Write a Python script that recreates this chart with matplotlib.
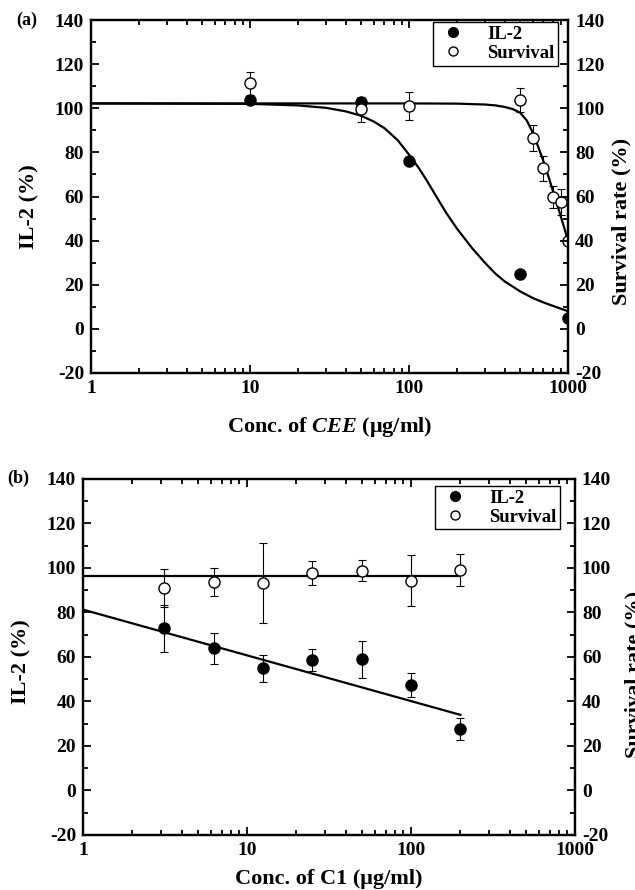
import matplotlib
matplotlib.use('Agg')
import matplotlib.pyplot as plt
from matplotlib.lines import Line2D
from matplotlib.ticker import FixedLocator, NullFormatter

plt.rcParams['font.family'] = ['Liberation Serif', 'DejaVu Serif']
plt.rcParams['font.weight'] = 'bold'
plt.rcParams['mathtext.fontset'] = 'custom'
plt.rcParams['mathtext.it'] = 'Liberation Serif:italic:bold'
plt.rcParams['mathtext.rm'] = 'Liberation Serif:bold'

# (a) CEE data
a_x_il2 = [10, 50, 100, 500, 1000]
a_il2 = [103.7, 103.0, 76.1, 25.1, 4.8]
a_x_surv = [10, 50, 100, 500, 600, 700, 800, 900, 1000]
a_surv = [111.3, 99.5, 101.0, 103.7, 86.6, 72.8, 59.9, 57.6, 40.0]
a_surv_err = [5.3, 5.6, 6.5, 5.3, 5.8, 5.6, 5.0, 6.0, 1.0]

# (a) fitted curves
a_fit_x = [1, 10, 20, 30, 40, 50, 60, 70, 85, 100, 115, 130, 150, 170, 200,
           250, 300, 350, 400, 500, 600, 700, 850, 1000]
a_fit_il2 = [102.2, 102.0, 101.3, 100.2, 98.6, 96.6, 94.0, 91.0, 85.5, 79.0,
             73.0, 67.0, 59.5, 53.0, 45.5, 36.5, 30.0, 25.0, 21.5, 17.0,
             14.0, 12.0, 9.8, 8.0]
a_fit_sx = [1, 100, 200, 300, 350, 400, 450, 500, 550, 600, 650, 700, 750,
            800, 850, 900, 950, 1000]
a_fit_surv = [102.2, 102.2, 102.1, 101.7, 101.3, 100.6, 99.6, 98.0, 94.5,
              89.0, 82.5, 76.0, 69.5, 63.0, 57.0, 51.0, 45.5, 40.0]

# (b) C1 data
b_x = [3.125, 6.25, 12.5, 25, 50, 100, 200]
b_il2 = [72.9, 63.9, 54.9, 58.7, 59.0, 47.4, 27.5]
b_il2_err = [10.5, 7.0, 6.0, 5.0, 8.3, 5.6, 5.0]
b_surv = [90.9, 93.8, 93.1, 97.6, 98.7, 94.2, 99.1]
b_surv_err = [8.5, 6.4, 18.0, 5.4, 4.7, 11.5, 7.0]

# (b) fitted lines (straight on log axis)
b_fit_x = [1, 200]
b_fit_il2 = [81.3, 34.0]
b_fit_surv = [96.5, 96.5]

yticks = [-20, 0, 20, 40, 60, 80, 100, 120, 140]
yminor = [-10, 10, 30, 50, 70, 90, 110, 130]
xticks = [1, 10, 100, 1000]
xticklabels = ['1', '10', '100', '1000']

TICK_FS = 14
LABEL_FS = 16

fig = plt.figure(figsize=(6.35, 8.9), dpi=100)


def style(ax, ax2):
    ax.set_xscale('log')
    ax.set_xlim(1, 1000)
    for a in (ax, ax2):
        a.set_ylim(-20, 140)
        a.set_yticks(yticks)
        a.set_yticklabels([str(t) for t in yticks])
        a.yaxis.set_minor_locator(FixedLocator(yminor))
        for s in a.spines.values():
            s.set_linewidth(1.6)
    ax.set_xticks(xticks)
    ax.set_xticklabels(xticklabels)
    ax.xaxis.set_minor_formatter(NullFormatter())
    ax.tick_params(which='both', direction='in', top=True, right=False,
                   labelsize=TICK_FS, width=1.3, pad=5)
    ax.tick_params(which='major', length=6)
    ax.tick_params(which='minor', length=3.5)
    ax.tick_params(axis='x', pad=5)
    ax2.tick_params(which='both', direction='in', labelsize=TICK_FS,
                    width=1.3, pad=5)
    ax2.tick_params(which='major', length=6)
    ax2.tick_params(which='minor', length=3.5)


def legend(ax, anchor):
    h = [Line2D([], [], ls='none', marker='o', ms=7, mfc='black',
                mec='black'),
         Line2D([], [], ls='none', marker='o', ms=6.5, mfc='white',
                mec='black')]
    lg = ax.legend(h, ['IL-2', 'Survival'], loc='upper right',
                   bbox_to_anchor=anchor, borderaxespad=0, fancybox=False,
                   edgecolor='black', framealpha=1, handletextpad=1.0,
                   handlelength=1.7, borderpad=0.2, labelspacing=0.1,
                   prop={'size': 13.4, 'weight': 'bold'})
    lg.get_frame().set_linewidth(1.0)


# ---- panel (a)
ax = fig.add_axes([0.1433, 0.5809, 0.7512, 0.3966])
ax2 = ax.twinx()
ax.plot(a_fit_x, a_fit_il2, 'k-', lw=1.6, zorder=2)
ax.plot(a_fit_sx, a_fit_surv, 'k-', lw=1.6, zorder=2)
ax.plot(a_x_il2, a_il2, 'o', color='black', ms=8, zorder=3)
ax.errorbar(a_x_surv, a_surv, yerr=a_surv_err, fmt='o', mfc='white',
            mec='black', ecolor='black', ms=8, elinewidth=0.8, capsize=3,
            capthick=0.8, zorder=4)
style(ax, ax2)
ax.set_ylabel('IL-2 (%)', fontsize=LABEL_FS, fontweight='bold')
ax.yaxis.set_label_coords(-0.107, 0.47)
ax2.set_ylabel('Survival rate (%)', fontsize=LABEL_FS, fontweight='bold')
ax2.yaxis.set_label_coords(1.092, 0.43)
ax.set_xlabel(r'Conc. of $\mathit{CEE}$ (μg/ml)', fontsize=LABEL_FS,
              fontweight='bold')
ax.xaxis.set_label_coords(0.5, -0.118)
legend(ax, (0.979, 0.994))
fig.text(0.026, 0.977, '(a)', fontsize=13, fontweight='bold', va='center')

# ---- panel (b)
bx = fig.add_axes([0.1307, 0.0618, 0.7748, 0.4])
bx2 = bx.twinx()
bx.plot(b_fit_x, b_fit_surv, 'k-', lw=1.6, zorder=2)
bx.plot(b_fit_x, b_fit_il2, 'k-', lw=1.6, zorder=2)
bx.errorbar(b_x, b_il2, yerr=b_il2_err, fmt='o', mfc='black', mec='black',
            ecolor='black', ms=8, elinewidth=0.8, capsize=3, capthick=0.8,
            zorder=3)
bx.errorbar(b_x, b_surv, yerr=b_surv_err, fmt='o', mfc='white', mec='black',
            ecolor='black', ms=8, elinewidth=0.8, capsize=3, capthick=0.8,
            zorder=4)
style(bx, bx2)
bx.set_ylabel('IL-2 (%)', fontsize=LABEL_FS, fontweight='bold')
bx.yaxis.set_label_coords(-0.104, 0.486)
bx2.set_ylabel('Survival rate (%)', fontsize=LABEL_FS, fontweight='bold')
bx2.yaxis.set_label_coords(1.1, 0.45)
bx.set_xlabel('Conc. of C1 (μg/ml)', fontsize=LABEL_FS, fontweight='bold')
bx.xaxis.set_label_coords(0.5, -0.096)
legend(bx, (0.9695, 0.98))
fig.text(0.012, 0.462, '(b)', fontsize=13, fontweight='bold', va='center')

fig.savefig('out.png', dpi=100)
